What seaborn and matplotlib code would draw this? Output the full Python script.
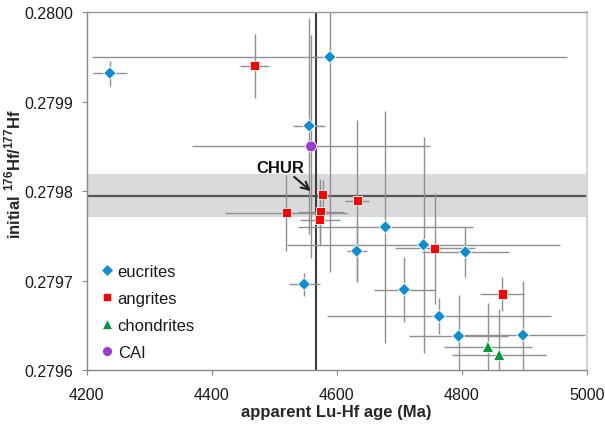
import numpy as np
import pandas as pd
import matplotlib
matplotlib.use("Agg")
import matplotlib.pyplot as plt
import seaborn as sns
from matplotlib.lines import Line2D
from matplotlib.ticker import FormatStrFormatter

sns.set_style("white")
plt.rcParams['font.family'] = ['Liberation Sans', 'DejaVu Sans']
plt.rcParams['mathtext.fontset'] = 'custom'
plt.rcParams['mathtext.rm'] = 'Liberation Sans:bold'
plt.rcParams['mathtext.bf'] = 'Liberation Sans:bold'

# ---------------- data ----------------
eucrite_age = [4237, 4589, 4556, 4548, 4632, 4678, 4739, 4806, 4708, 4764, 4795, 4898]
eucrite_hf = [0.279932, 0.279950, 0.279873, 0.279696, 0.279733, 0.279760,
              0.279740, 0.279732, 0.279690, 0.279660, 0.279638, 0.279639]
eucrite_age_err = [27, 380, 26, 25, 16, 140, 219, 69, 49, 179, 79, 100]
eucrite_hf_err = [0.000014, 0.000240, 0.000121, 0.000013, 0.000035, 0.000130,
                  0.000121, 0.000028, 0.000036, 0.000020, 0.000046, 0.000060]

angrite_age = [4469, 4578, 4574, 4573, 4519, 4633, 4757, 4865]
angrite_hf = [0.279940, 0.279796, 0.279777, 0.279768, 0.279776, 0.279789, 0.279736, 0.279685]
angrite_age_err = [23, 10, 36, 32, 98, 19, 64, 35]
angrite_hf_err = [0.000036, 0.000016, 0.000037, 0.000025, 0.0000425, 0.000090, 0.000062, 0.0000187]

chondrite_age = [4842, 4860]
chondrite_hf = [0.279626, 0.279617]
chondrite_age_err = [71, 75]
chondrite_hf_err = [0.000049, 0.000051]

cai_age = [4559]
cai_hf = [0.279850]
cai_age_err = [190]
cai_hf_err = [0.000125]

chur_value = 0.279795
chur_band = [0.279771, 0.279819]
solar_age = 4567

groups = ["eucrites", "angrites", "chondrites", "CAI"]
colors = {"eucrites": "#0a8fd6", "angrites": "#ff0000",
          "chondrites": "#009a3e", "CAI": "#9b3bd1"}
markers = {"eucrites": "D", "angrites": "s", "chondrites": "^", "CAI": "o"}
sizes = {"eucrites": 40, "angrites": 42, "chondrites": 66, "CAI": 62}

data = {
    "eucrites": (eucrite_age, eucrite_hf, eucrite_age_err, eucrite_hf_err),
    "angrites": (angrite_age, angrite_hf, angrite_age_err, angrite_hf_err),
    "chondrites": (chondrite_age, chondrite_hf, chondrite_age_err, chondrite_hf_err),
    "CAI": (cai_age, cai_hf, cai_age_err, cai_hf_err),
}

rows = []
for g in groups:
    a, h, ae, he = data[g]
    for i in range(len(a)):
        rows.append({"age": a[i], "hf": h[i], "group": g})
df = pd.DataFrame(rows)

# ---------------- figure ----------------
fig = plt.figure(figsize=(6.05, 4.27), dpi=100)
ax = fig.add_axes([0.1433, 0.1311, 0.8264, 0.8378])

ax.axhspan(chur_band[0], chur_band[1], color="#d9dadb", lw=0, zorder=0)
ax.axhline(chur_value, color="#555555", lw=1.6, zorder=1)
ax.axvline(solar_age, color="#3d3d3d", lw=1.5, zorder=1)

for g in groups:
    a, h, ae, he = data[g]
    ax.errorbar(a, h, xerr=ae, yerr=he, fmt="none", ecolor="#8f8f8f",
                elinewidth=1.0, capsize=0, zorder=2)

sns.scatterplot(data=df, x="age", y="hf", hue="group", style="group", size="group",
                palette=colors, markers=markers, sizes=sizes,
                edgecolor="white", linewidth=0.6, legend=False, ax=ax, zorder=3)

ax.set_xlim(4200, 5000)
ax.set_ylim(0.2796, 0.2800)
ax.set_xticks([4200, 4400, 4600, 4800, 5000])
ax.set_yticks([0.2796, 0.2797, 0.2798, 0.2799, 0.2800])
ax.yaxis.set_major_formatter(FormatStrFormatter("%.4f"))
ax.tick_params(bottom=True, left=True, direction="out", length=3.5, width=0.8,
               color="#888888", labelsize=11.5, labelcolor="#1a1a1a")
ax.tick_params(axis="x", pad=9)
ax.tick_params(axis="y", pad=6)

for side, col, lw in [("left", "#888888", 1.0), ("bottom", "#888888", 1.0),
                      ("top", "#999999", 1.0), ("right", "#cfcfcf", 1.3)]:
    ax.spines[side].set_color(col)
    ax.spines[side].set_linewidth(lw)
    ax.spines[side].set_visible(True)

ax.set_xlabel("apparent Lu-Hf age (Ma)", fontsize=12, fontweight="bold", labelpad=1)
ax.set_ylabel(r"initial $^{176}$Hf/$^{177}$Hf", fontsize=12, fontweight="bold")
ax.yaxis.set_label_coords(-0.127, 0.55)

# CHUR annotation
ax.text(4510, 0.279821, "CHUR", ha="center", va="baseline",
        fontsize=12, fontweight="bold", color="#111111")
ax.annotate("", xy=(4558.5, 0.27980), xytext=(4532, 0.279816),
            arrowprops=dict(arrowstyle="->", lw=1.5, color="#222222",
                            shrinkA=0, shrinkB=0, mutation_scale=14))

handles = [Line2D([0], [0], marker=markers[g], color="none", markerfacecolor=colors[g],
                  markeredgecolor="white", markeredgewidth=0.5,
                  markersize=np.sqrt(sizes[g]) * 0.9, label=g) for g in groups]
leg = ax.legend(handles=handles, loc="upper left", bbox_to_anchor=(0.027, 0.297),
                frameon=False, fontsize=12, handlelength=0.8, handletextpad=0.25,
                labelspacing=0.73, borderpad=0, borderaxespad=0)
for t in leg.get_texts():
    t.set_color("#1a1a1a")

fig.savefig("out.png", dpi=100)
